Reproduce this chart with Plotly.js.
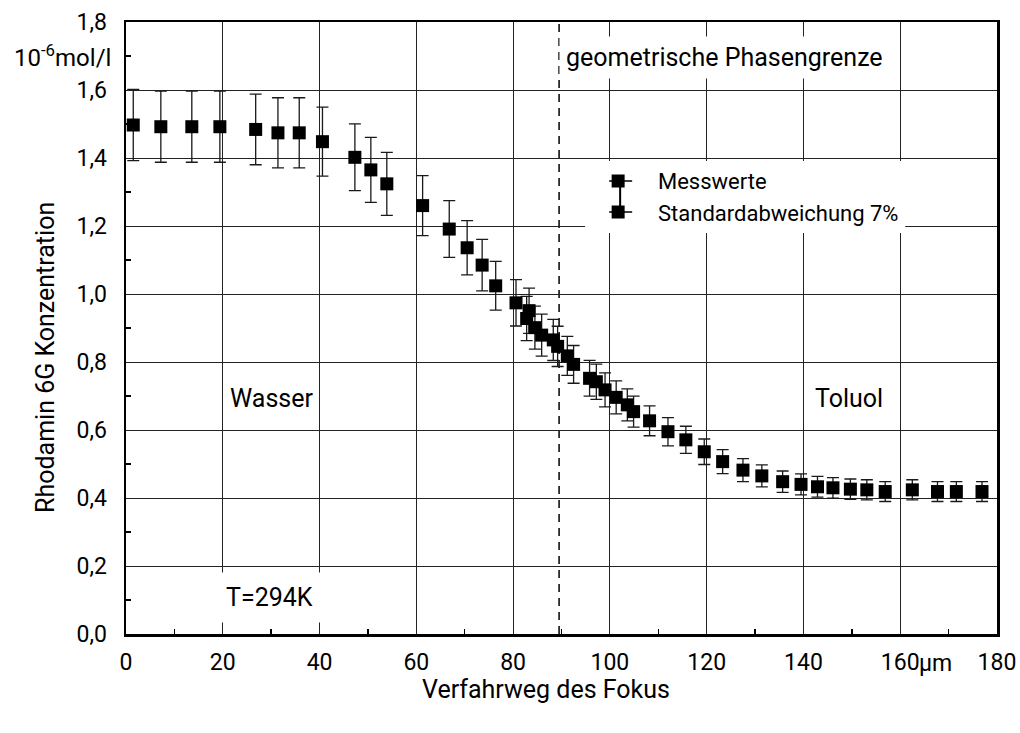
<!DOCTYPE html>
<html>
<head>
<meta charset="utf-8">
<script src="https://cdn.plot.ly/plotly-3.0.1.min.js"></script>
<style>html,body{margin:0;padding:0;background:#fff;}#chart{width:1020px;height:733px;}</style>
</head>
<body>
<div id="chart"></div>
<script>
// Data
const position = [1.5, 7.2, 13.6, 19.4, 26.8, 31.4, 35.8, 40.6, 47.3, 50.6, 53.9, 61.3, 66.8, 70.5, 73.6, 76.4, 80.6, 82.8, 83.3, 84.5, 85.9, 88.3, 89.2, 91.2, 92.5, 95.8, 97.2, 99.0, 101.3, 103.6, 104.9, 108.2, 112.0, 115.7, 119.5, 123.3, 127.5, 131.4, 135.7, 139.5, 142.9, 146.1, 149.7, 153.1, 156.9, 162.5, 167.7, 171.6, 176.9];
const concentration = [1.497, 1.492, 1.492, 1.492, 1.484, 1.474, 1.474, 1.448, 1.402, 1.365, 1.324, 1.260, 1.191, 1.136, 1.085, 1.024, 0.974, 0.928, 0.951, 0.901, 0.879, 0.865, 0.846, 0.818, 0.793, 0.752, 0.742, 0.718, 0.696, 0.674, 0.654, 0.627, 0.595, 0.571, 0.536, 0.507, 0.482, 0.465, 0.448, 0.440, 0.433, 0.430, 0.426, 0.424, 0.419, 0.424, 0.419, 0.419, 0.419];
const stdPercent = 7;
const phaseBoundary = 89.5;
const xTickVals = [0, 20, 40, 60, 80, 100, 120, 140, 160, 180];
const xTickText = ['0', '20', '40', '60', '80', '100', '120', '140', '160', '180'];
const yTickVals = [0, 0.2, 0.4, 0.6, 0.8, 1.0, 1.2, 1.4, 1.6, 1.8];
const yTickText = ['0,0', '0,2', '0,4', '0,6', '0,8', '1,0', '1,2', '1,4', '1,6', '1,8'];
const legendLabels = ['Messwerte', 'Standardabweichung 7%'];

const FONT = 'Roboto, "DejaVu Sans", sans-serif';

const trace = {
  x: position,
  y: concentration,
  type: 'scatter',
  mode: 'markers',
  name: legendLabels[0],
  marker: {symbol: 'square', size: 13, color: '#000', line: {width: 0}},
  error_y: {type: 'percent', value: stdPercent, visible: true, color: '#1a1a1a', thickness: 1.3, width: 6},
  showlegend: false,
  cliponaxis: false
};

// helpers converting legend-symbol pixel positions into data units
const pxX = p => (p - 126) / 4.8375;
const pxY = p => (634 - p) / 340;

const shapes = [
  {type: 'line', xref: 'x', yref: 'y', x0: phaseBoundary, x1: phaseBoundary, y0: 0, y1: 1.8,
   line: {color: '#000', width: 1.5, dash: '8px,6px'}, layer: 'below'},
  // legend box
  {type: 'rect', xref: 'x', yref: 'y', x0: pxX(585), x1: pxX(905), y0: pxY(161), y1: pxY(233),
   fillcolor: '#fff', line: {width: 0}, layer: 'above'},
  // legend symbol
  {type: 'line', xref: 'x', yref: 'y', x0: pxX(620), x1: pxX(620), y0: pxY(181), y1: pxY(212),
   line: {color: '#000', width: 2}, layer: 'above'},
  {type: 'line', xref: 'x', yref: 'y', x0: pxX(609), x1: pxX(632), y0: pxY(181), y1: pxY(181),
   line: {color: '#000', width: 1.5}, layer: 'above'},
  {type: 'line', xref: 'x', yref: 'y', x0: pxX(609), x1: pxX(632), y0: pxY(212), y1: pxY(212),
   line: {color: '#000', width: 1.5}, layer: 'above'},
  {type: 'rect', xref: 'x', yref: 'y', x0: pxX(611.5), x1: pxX(624.5), y0: pxY(187.5), y1: pxY(174.5),
   fillcolor: '#000', line: {width: 0}, layer: 'above'},
  {type: 'rect', xref: 'x', yref: 'y', x0: pxX(611.5), x1: pxX(624.5), y0: pxY(218.5), y1: pxY(205.5),
   fillcolor: '#000', line: {width: 0}, layer: 'above'}
];

const annFont = {family: FONT, size: 25, color: '#000'};
const annotations = [
  {text: 'geometrische Phasengrenze', xref: 'x', yref: 'y', x: pxX(559), y: pxY(57), xanchor: 'left', yanchor: 'middle',
   showarrow: false, font: annFont, bgcolor: '#fff', borderpad: 6},
  {text: 'Wasser', xref: 'x', yref: 'y', x: pxX(271), y: pxY(398), showarrow: false, font: annFont, bgcolor: '#fff', borderpad: 5},
  {text: 'Toluol', xref: 'x', yref: 'y', x: pxX(849), y: pxY(398), showarrow: false, font: annFont, bgcolor: '#fff', borderpad: 2},
  {text: 'T=294K', xref: 'x', yref: 'y', x: pxX(269), y: pxY(597), showarrow: false, font: annFont, bgcolor: '#fff', borderpad: 10},
  {text: legendLabels[0], xref: 'x', yref: 'y', x: pxX(656), y: pxY(181), xanchor: 'left', yanchor: 'middle', showarrow: false,
   font: {family: FONT, size: 22, color: '#000'}},
  {text: legendLabels[1], xref: 'x', yref: 'y', x: pxX(656), y: pxY(213), xanchor: 'left', yanchor: 'middle', showarrow: false,
   font: {family: FONT, size: 22, color: '#000'}},
  {text: 'µm', xref: 'x', yref: 'paper', x: pxX(935), y: -(663 - 634) / 612, xanchor: 'center', yanchor: 'middle', showarrow: false,
   font: {family: FONT, size: 23, color: '#000'}},
  {text: '10<sup>-6</sup>mol/l', xref: 'paper', yref: 'paper', x: (113 - 126) / 871, y: (634 - 56) / 612, xanchor: 'right', yanchor: 'middle',
   showarrow: false, font: {family: FONT, size: 24, color: '#000'}},
  {text: 'Verfahrweg des Fokus', xref: 'paper', yref: 'paper', x: (546 - 126) / 871, y: -(690 - 634) / 612, xanchor: 'center', yanchor: 'middle',
   showarrow: false, font: {family: FONT, size: 25, color: '#000'}},
  {text: 'Rhodamin 6G Konzentration', xref: 'paper', yref: 'paper', x: (45 - 126) / 871, y: (634 - 358) / 612, xanchor: 'center', yanchor: 'middle',
   textangle: -90, showarrow: false, font: {family: FONT, size: 25, color: '#000'}}
];

const layout = {
  width: 1020, height: 733,
  margin: {l: 126, r: 23, t: 22, b: 99, pad: 0},
  paper_bgcolor: '#fff', plot_bgcolor: '#fff',
  font: {family: FONT, size: 23, color: '#000'},
  showlegend: false,
  xaxis: {
    range: [0, 180], tickvals: xTickVals, ticktext: xTickText,
    showgrid: true, gridcolor: '#222', gridwidth: 1,
    showline: true, linecolor: '#000', linewidth: 2.5, mirror: true,
    ticks: '', zeroline: false, ticklabelstandoff: 6,
    tickfont: {family: FONT, size: 23, color: '#000'},
    minor: {tickvals: [10, 30, 50, 70, 90, 110, 130, 150, 170], ticks: 'inside', ticklen: 5, tickwidth: 1.5, tickcolor: '#000', showgrid: false}
  },
  yaxis: {
    range: [0, 1.8], tickvals: yTickVals, ticktext: yTickText,
    showgrid: true, gridcolor: '#222', gridwidth: 1,
    showline: true, linecolor: '#000', linewidth: 2.5, mirror: true,
    ticks: '', zeroline: false, ticklabelstandoff: 12,
    tickfont: {family: FONT, size: 23, color: '#000'},
    minor: {tickvals: [0.1, 0.3, 0.5, 0.7, 0.9, 1.1, 1.3, 1.5, 1.7], ticks: 'inside', ticklen: 5, tickwidth: 1.5, tickcolor: '#000', showgrid: false}
  },
  shapes: shapes,
  annotations: annotations
};

Plotly.newPlot('chart', [trace], layout, {staticPlot: true, displayModeBar: false});
</script>
</body>
</html>
